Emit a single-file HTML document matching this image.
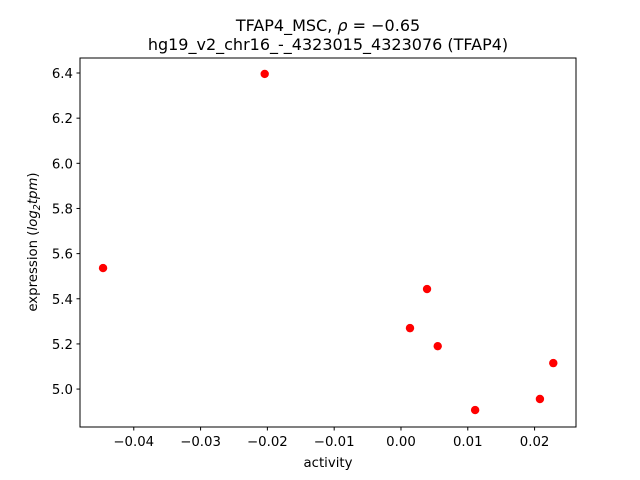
<!DOCTYPE html>
<html><head><meta charset="utf-8"><style>
body{margin:0;background:#fff;}
svg{display:block;font-family:"DejaVu Sans","Liberation Sans",sans-serif;}
</style></head><body>
<svg id="chart" width="640" height="480" xmlns="http://www.w3.org/2000/svg">
<rect width="640" height="480" fill="#fff"/>
<text x="328" y="31" font-size="16" text-anchor="middle">TFAP4_MSC, <tspan font-style="italic">ρ</tspan> = −0.65</text>
<text x="328" y="50" font-size="16" text-anchor="middle">hg19_v2_chr16_-_4323015_4323076 (TFAP4)</text>
<g id="ticks"></g>
<g id="points"></g>
<rect x="80" y="58" width="496" height="369" fill="none" stroke="#000" stroke-width="1"/>
<text x="328" y="467" font-size="13.3" text-anchor="middle">activity</text>
<text transform="translate(37,242) rotate(-90)" font-size="13.3" text-anchor="middle">expression (<tspan font-style="italic">log</tspan><tspan font-style="italic" font-size="9.5" dy="3">2</tspan><tspan font-style="italic" dy="-3">tpm</tspan>)</text>
</svg>
<script>
const activity=[-0.0446,-0.0204,0.0039,0.00135,0.0055,0.0111,0.0208,0.0228];
const expression=[5.536,6.396,5.443,5.270,5.190,4.907,4.956,5.115];
const xTicks=[-0.04,-0.03,-0.02,-0.01,0.00,0.01,0.02];
const xTickLabels=["−0.04","−0.03","−0.02","−0.01","0.00","0.01","0.02"];
const yTicks=[5.0,5.2,5.4,5.6,5.8,6.0,6.2,6.4];
const yTickLabels=["5.0","5.2","5.4","5.6","5.8","6.0","6.2","6.4"];
const X0=80,X1=576,Y0=58,Y1=427;
const xmin=-0.04805,xmax=0.0262,ymin=4.832,ymax=6.4665;
const xs=v=>X0+(v-xmin)/(xmax-xmin)*(X1-X0);
const ys=v=>Y1-(v-ymin)/(ymax-ymin)*(Y1-Y0);
const NS="http://www.w3.org/2000/svg";
const tg=document.getElementById('ticks'),pg=document.getElementById('points');
function mk(t,a){const e=document.createElementNS(NS,t);for(const k in a)e.setAttribute(k,a[k]);return e;}
xTicks.forEach((v,i)=>{const x=xs(v);
const l=mk('line',{x1:x,x2:x,y1:Y1,y2:Y1+3.5,stroke:'#000'});


tg.appendChild(l);
const t=mk('text',{x:x,y:Y1+19,'font-size':13.3,'text-anchor':'middle'});t.textContent=xTickLabels[i];


tg.appendChild(t);});
yTicks.forEach((v,i)=>{const y=ys(v);
const l=mk('line',{x1:X0-3.5,x2:X0,y1:y,y2:y,stroke:'#000'});


tg.appendChild(l);
const t=mk('text',{x:X0-7,y:y+5,'font-size':13.3,'text-anchor':'end'});t.textContent=yTickLabels[i];


tg.appendChild(t);});
activity.forEach((v,i)=>{const c=mk('circle',{cx:xs(v),cy:ys(expression[i]),r:4.2,fill:'#ff0000'});


pg.appendChild(c);});
</script>
</body></html>
